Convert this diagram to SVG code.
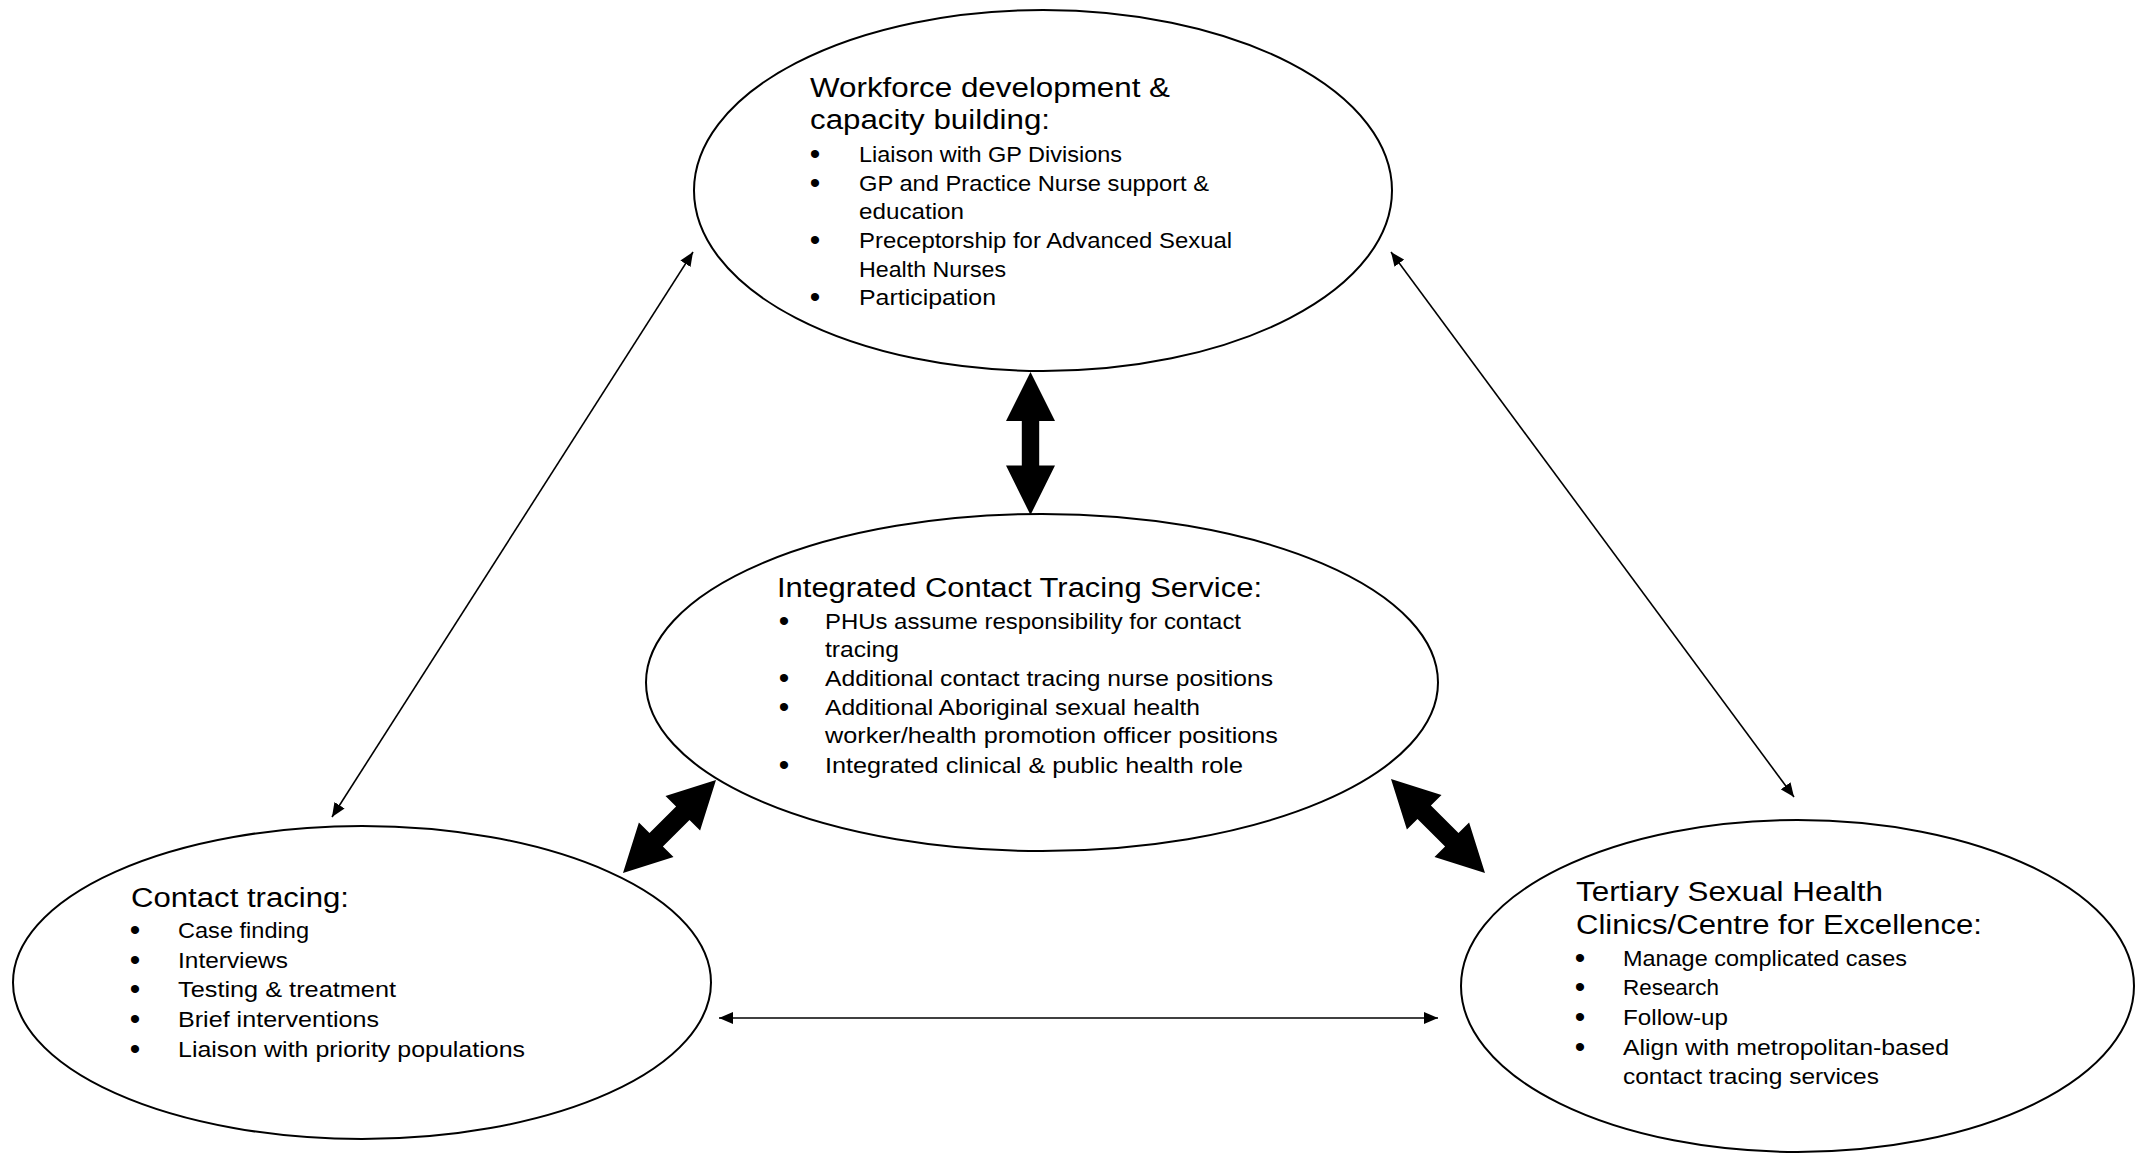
<svg xmlns="http://www.w3.org/2000/svg" width="2143" height="1153" viewBox="0 0 2143 1153">
<style>
.bg{fill:#ffffff}
.ell{fill:#ffffff;stroke:#000;stroke-width:2}
.t{font-family:"Liberation Sans",Arial,sans-serif;fill:#000}
.h{font-size:27px}
.b{font-size:22.5px}
.bul{font-size:30px;text-anchor:middle}
.thin{stroke:#000;stroke-width:1.6;fill:none;marker-start:url(#ah);marker-end:url(#ah)}
.thick{fill:#000;stroke:none}
</style>
<defs>
<marker id="ah" viewBox="0 0 14 12" markerWidth="14" markerHeight="12" refX="14" refY="6" orient="auto-start-reverse" markerUnits="userSpaceOnUse">
<path d="M0,0 L14,6 L0,12 z" fill="#000"/>
</marker>
<clipPath id="clipTop"><rect x="700" y="0" width="700" height="309"/></clipPath>
</defs>
<rect class="bg" x="0" y="0" width="2143" height="1153"/>

<g id="connectors">
<line class="thin" x1="332" y1="817" x2="693" y2="252"/>
<line class="thin" x1="1391" y1="252" x2="1794" y2="797"/>
<line class="thin" x1="719" y1="1018" x2="1438" y2="1018"/>
<polygon class="thick" points="1030.5,372 1055,421 1039.2,421 1039.2,465.5 1055,465.5 1030.5,515 1006,465.5 1021.8,465.5 1021.8,421 1006,421"/>
<polygon class="thick" points="716,780 700.1,830.5 689.5,819.9 662.9,846.5 673.5,857.1 623,873 638.9,822.5 649.5,833.1 676.1,806.5 665.5,795.9"/>
<polygon class="thick" points="1391,779 1441.5,794.9 1430.9,805.5 1458.5,833.1 1469.1,822.5 1485,873 1434.5,857.1 1445.1,846.5 1417.5,818.9 1406.9,829.5"/>
</g>

<g id="node-workforce">
<ellipse class="ell" cx="1043" cy="190.5" rx="349" ry="180.5"/>
<g clip-path="url(#clipTop)">
<text class="t h" x="810" y="97" textLength="360" lengthAdjust="spacingAndGlyphs">Workforce development &amp;</text>
<text class="t h" x="810" y="129" textLength="240" lengthAdjust="spacingAndGlyphs">capacity building:</text>
<text class="t bul" x="815" y="164">•</text>
<text class="t b" x="859" y="162" textLength="263" lengthAdjust="spacingAndGlyphs">Liaison with GP Divisions</text>
<text class="t bul" x="815" y="193">•</text>
<text class="t b" x="859" y="191" textLength="350" lengthAdjust="spacingAndGlyphs">GP and Practice Nurse support &amp;</text>
<text class="t b" x="859" y="219" textLength="105" lengthAdjust="spacingAndGlyphs">education</text>
<text class="t bul" x="815" y="250">•</text>
<text class="t b" x="859" y="248" textLength="373" lengthAdjust="spacingAndGlyphs">Preceptorship for Advanced Sexual</text>
<text class="t b" x="859" y="277" textLength="147" lengthAdjust="spacingAndGlyphs">Health Nurses</text>
<text class="t bul" x="815" y="307">•</text>
<text class="t b" x="859" y="305" textLength="137" lengthAdjust="spacingAndGlyphs">Participation</text>
</g>
</g>

<g id="node-integrated">
<ellipse class="ell" cx="1042" cy="682.5" rx="396" ry="168.5"/>
<text class="t h" x="777" y="597" textLength="485" lengthAdjust="spacingAndGlyphs">Integrated Contact Tracing Service:</text>
<text class="t bul" x="784" y="631">•</text>
<text class="t b" x="825" y="629" textLength="416" lengthAdjust="spacingAndGlyphs">PHUs assume responsibility for contact</text>
<text class="t b" x="825" y="657" textLength="74" lengthAdjust="spacingAndGlyphs">tracing</text>
<text class="t bul" x="784" y="688">•</text>
<text class="t b" x="825" y="686" textLength="448" lengthAdjust="spacingAndGlyphs">Additional contact tracing nurse positions</text>
<text class="t bul" x="784" y="717">•</text>
<text class="t b" x="825" y="715" textLength="375" lengthAdjust="spacingAndGlyphs">Additional Aboriginal sexual health</text>
<text class="t b" x="825" y="743" textLength="453" lengthAdjust="spacingAndGlyphs">worker/health promotion officer positions</text>
<text class="t bul" x="784" y="775">•</text>
<text class="t b" x="825" y="773" textLength="418" lengthAdjust="spacingAndGlyphs">Integrated clinical &amp; public health role</text>
</g>

<g id="node-contact">
<ellipse class="ell" cx="362" cy="982.5" rx="349" ry="156.5"/>
<text class="t h" x="131" y="907" textLength="218" lengthAdjust="spacingAndGlyphs">Contact tracing:</text>
<text class="t bul" x="135" y="940">•</text>
<text class="t b" x="178" y="938" textLength="131" lengthAdjust="spacingAndGlyphs">Case finding</text>
<text class="t bul" x="135" y="970">•</text>
<text class="t b" x="178" y="968" textLength="110" lengthAdjust="spacingAndGlyphs">Interviews</text>
<text class="t bul" x="135" y="999">•</text>
<text class="t b" x="178" y="997" textLength="218" lengthAdjust="spacingAndGlyphs">Testing &amp; treatment</text>
<text class="t bul" x="135" y="1029">•</text>
<text class="t b" x="178" y="1027" textLength="201" lengthAdjust="spacingAndGlyphs">Brief interventions</text>
<text class="t bul" x="135" y="1059">•</text>
<text class="t b" x="178" y="1057" textLength="347" lengthAdjust="spacingAndGlyphs">Liaison with priority populations</text>
</g>

<g id="node-tertiary">
<ellipse class="ell" cx="1797.5" cy="986" rx="336.5" ry="166"/>
<text class="t h" x="1576" y="901" textLength="307" lengthAdjust="spacingAndGlyphs">Tertiary Sexual Health</text>
<text class="t h" x="1576" y="934" textLength="406" lengthAdjust="spacingAndGlyphs">Clinics/Centre for Excellence:</text>
<text class="t bul" x="1580" y="968">•</text>
<text class="t b" x="1623" y="966" textLength="284" lengthAdjust="spacingAndGlyphs">Manage complicated cases</text>
<text class="t bul" x="1580" y="997">•</text>
<text class="t b" x="1623" y="995" textLength="96" lengthAdjust="spacingAndGlyphs">Research</text>
<text class="t bul" x="1580" y="1027">•</text>
<text class="t b" x="1623" y="1025" textLength="105" lengthAdjust="spacingAndGlyphs">Follow-up</text>
<text class="t bul" x="1580" y="1057">•</text>
<text class="t b" x="1623" y="1055" textLength="326" lengthAdjust="spacingAndGlyphs">Align with metropolitan-based</text>
<text class="t b" x="1623" y="1084" textLength="256" lengthAdjust="spacingAndGlyphs">contact tracing services</text>
</g>
</svg>
